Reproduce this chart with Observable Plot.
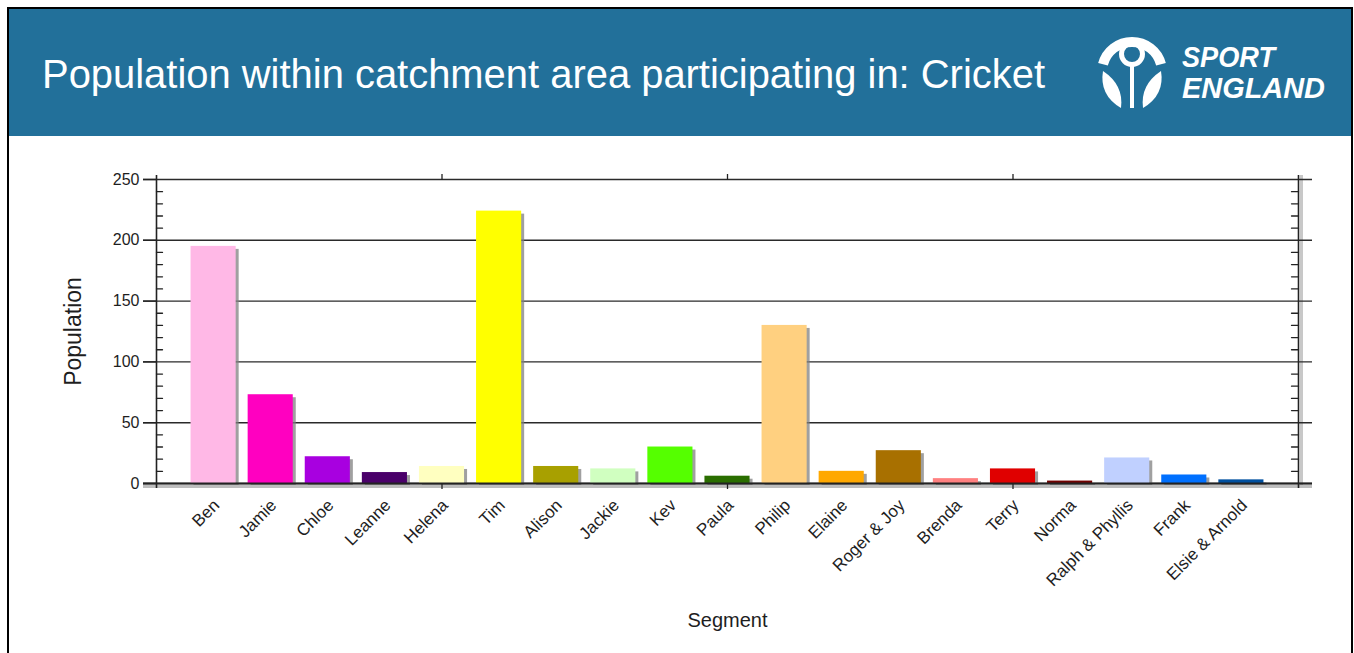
<!DOCTYPE html>
<html><head><meta charset="utf-8">
<script src="https://cdn.jsdelivr.net/npm/d3@7"></script>
<script src="https://cdn.jsdelivr.net/npm/@observablehq/plot@0.6"></script>
<style>
html,body{margin:0;padding:0;background:#fff;overflow:hidden;font-family:"Liberation Sans",Arial,sans-serif;}
#frame{position:absolute;left:7px;top:7px;width:1346px;height:700px;border:2px solid #000;box-sizing:border-box;overflow:hidden;background:#fff;}
#header{position:absolute;left:0;top:0;display:block;}
#chart{position:absolute;left:0;top:127px;}
</style></head><body>
<div id="frame">
<svg id="header" width="1342" height="127" xmlns="http://www.w3.org/2000/svg">
  <rect x="0" y="0" width="1342" height="127" fill="#22709a"/>
  <text x="33" y="79" fill="#fff" font-family="Liberation Sans, Arial, sans-serif" font-size="40" textLength="1003" lengthAdjust="spacingAndGlyphs">Population within catchment area participating in: Cricket</text>
  <g fill="none" stroke="#fff">
    <path d="M1094.0,55.2 A30,30 0 0 1 1152.0,55.2" stroke-width="10"/>
    <circle cx="1123" cy="45" r="10.5" stroke-width="5"/>
    <path d="M1123,56 L1123,99" stroke-width="4"/>
  </g>
  <g fill="#fff">
    <path d="M1094,62 Q1090,86 1112,99 Q1115,76 1094,62 Z"/>
    <path d="M1152,62 Q1156,86 1134,99 Q1131,76 1152,62 Z"/>
  </g>
  <g fill="#fff" font-family="Liberation Sans, Arial, sans-serif" font-weight="bold" font-style="italic" font-size="29">
    <text x="1173" y="58" textLength="93" lengthAdjust="spacingAndGlyphs">SPORT</text>
    <text x="1173" y="89" textLength="143" lengthAdjust="spacingAndGlyphs">ENGLAND</text>
  </g>
</svg>
<div id="chart"></div>
</div>
<script>
// ---- data ----
const segments = ["Ben","Jamie","Chloe","Leanne","Helena","Tim","Alison","Jackie","Kev","Paula","Philip","Elaine","Roger & Joy","Brenda","Terry","Norma","Ralph & Phyllis","Frank","Elsie & Arnold"];
const population = [195,73,22,9,14,224,14,12,30,6,130,10,27,4,12,2,21,7,3];
const slots = [1,2,3,4,5,6,7,8,9,10,11,12,13,14,15,16,17,18,19];
const barColors = ["#ffb8e6","#ff00c0","#a800e0","#4a006a","#ffffc0","#ffff00","#a8a000","#d0ffc0","#55ff00","#2a6e00","#ffd080","#ffa800","#a87000","#ff8080","#e00000","#700000","#c0d0ff","#0070ff","#0050a0"];
const yMajor = [0,50,100,150,200,250];
const yMinor = [10,20,30,40,60,70,80,90,110,120,130,140,160,170,180,190,210,220,230,240];
const xTicks = [5,10,15];

const data = segments.map((s,i)=>({segment:s, population:population[i], slot:slots[i]}));
const half = 0.395;
const font = '"Liberation Sans", Arial, sans-serif';
const blank = () => "";
const line = {draw(c, l){ c.moveTo(0,0); c.lineTo(0,-l); }};

const chart = Plot.plot({
  width:1342, height:517,
  marginLeft:147, marginRight:53, marginTop:43, marginBottom:170,
  style:{fontFamily:font, fontSize:"16px", color:"#1e1e1e", background:"transparent", overflow:"visible"},
  x:{domain:[0,20], axis:null},
  y:{domain:[0,250], axis:null},
  color:{type:"ordinal", domain:segments, range:barColors},
  marks:[
    Plot.ruleX([20], {insetTop:-4, insetBottom:-5, stroke:"#c8c8c8", strokeWidth:3, dx:3}),
    Plot.ruleY(yMajor, {insetLeft:-13, insetRight:-14, stroke:"#2a2a2a", strokeWidth:1.4}),
    Plot.rectY(data, {x1:d=>d.slot-half, x2:d=>d.slot+half, y:"population", fill:"#808080", fillOpacity:0.75, dx:3, dy:3}),
    Plot.rectY(data, {x1:d=>d.slot-half, x2:d=>d.slot+half, y:"population", fill:"segment"}),
    Plot.ruleY([0], {insetLeft:-13, insetRight:-14, stroke:"#bdbdbd", strokeWidth:3, dy:3}),
    Plot.ruleY([0], {insetLeft:-13, insetRight:-14, stroke:"#222", strokeWidth:1.8}),
    Plot.ruleX([0,20], {insetTop:-4, insetBottom:-5, stroke:"#222", strokeWidth:1.6}),
    Plot.vector(yMinor, {y:d=>d, frameAnchor:"left", rotate:90, length:6, anchor:"start", shape:line, stroke:"#222", strokeWidth:1.3}),
    Plot.vector(yMinor, {y:d=>d, frameAnchor:"right", rotate:-90, length:7, anchor:"start", shape:line, stroke:"#222", strokeWidth:1.3}),
    Plot.axisX(xTicks, {anchor:"bottom", tickSize:6, tickFormat:blank, label:null, stroke:"#222", strokeWidth:1.3}),
    Plot.axisX(xTicks, {anchor:"top", tickSize:6, tickFormat:blank, label:null, stroke:"#222", strokeWidth:1.3}),
    Plot.axisY(yMajor, {anchor:"left", tickSize:13, tickPadding:4, label:null, fontSize:16, stroke:"#222", strokeWidth:1.4}),
    Plot.text(data, {x:"slot", y:0, text:"segment", rotate:-45, textAnchor:"end", lineAnchor:"middle", dx:3, dy:19, fontSize:17, fill:"#1e1e1e"}),
    Plot.text(["Population"], {text:d=>d, frameAnchor:"left", textAnchor:"middle", lineAnchor:"middle", dx:-83, rotate:-90, fontSize:23, fill:"#1e1e1e"}),
    Plot.text(["Segment"], {text:d=>d, frameAnchor:"bottom", textAnchor:"middle", lineAnchor:"middle", dy:137, fontSize:20, fill:"#1e1e1e"})
  ]
});
document.getElementById("chart").appendChild(chart);
</script>
</body></html>
